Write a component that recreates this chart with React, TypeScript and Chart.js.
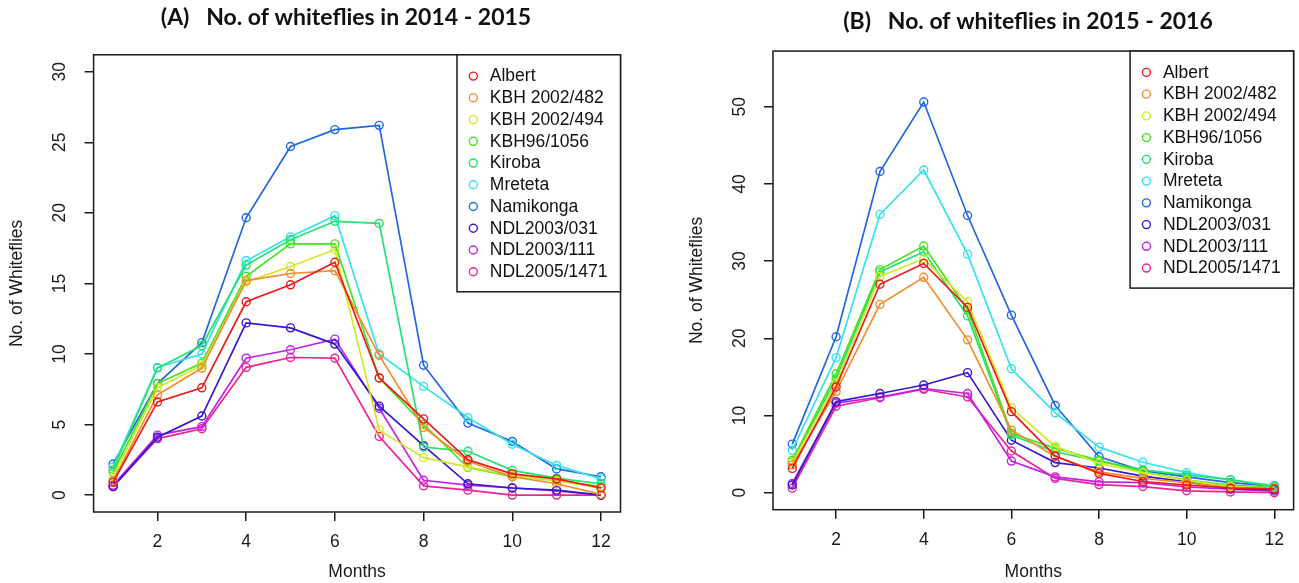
import React, { useEffect, useRef } from "react";
import { Chart, registerables } from "chart.js";

Chart.register(...registerables);

// ---------- data ----------
const months = [1, 2, 3, 4, 5, 6, 7, 8, 9, 10, 11, 12];
const xTicks = [2, 4, 6, 8, 10, 12];
const yTicksA = [0, 5, 10, 15, 20, 25, 30];
const yTicksB = [0, 10, 20, 30, 40, 50];

const varieties = [
  "Albert",
  "KBH 2002/482",
  "KBH 2002/494",
  "KBH96/1056",
  "Kiroba",
  "Mreteta",
  "Namikonga",
  "NDL2003/031",
  "NDL2003/111",
  "NDL2005/1471",
];

const colors = [
  "#EE1A1A",
  "#F28E2A",
  "#D2EA22",
  "#45E226",
  "#26E070",
  "#36E2EE",
  "#2266E0",
  "#3418D2",
  "#C224E6",
  "#EE2494",
];

// (A) 2014 - 2015
const albertA = [0.9, 6.6, 7.6, 13.7, 14.9, 16.5, 8.3, 5.4, 2.5, 1.5, 1.15, 0.5];
const kbh482A = [1.0, 7.1, 9.0, 15.2, 15.7, 15.9, 9.9, 4.8, 2.4, 1.3, 0.8, 0.05];
const kbh494A = [1.3, 7.6, 9.2, 15.1, 16.2, 17.4, 4.6, 2.65, 2.0, 1.4, 1.0, 0.5];
const kbh96A = [1.6, 7.9, 9.35, 15.5, 17.8, 17.8, 8.3, 5.0, 1.95, 1.3, 1.05, 0.6];
const kirobaA = [1.8, 9.0, 10.6, 16.3, 18.1, 19.4, 19.25, 3.4, 3.1, 1.75, 1.2, 0.8];
const mretetaA = [2.0, 9.05, 10.0, 16.6, 18.3, 19.8, 10.0, 7.7, 5.5, 3.6, 2.1, 1.15];
const namikongaA = [2.2, 7.9, 10.8, 19.65, 24.7, 25.9, 26.2, 9.2, 5.1, 3.8, 1.85, 1.3];
const ndl031A = [0.6, 4.1, 5.6, 12.2, 11.85, 10.7, 6.3, 3.5, 0.8, 0.5, 0.35, 0.0];
const ndl111A = [0.7, 4.25, 4.85, 9.7, 10.3, 11.05, 6.15, 1.05, 0.7, 0.5, 0.3, 0.0];
const ndl1471A = [0.6, 4.0, 4.7, 9.05, 9.75, 9.7, 4.15, 0.65, 0.35, 0.0, 0.0, 0.0];

// (B) 2015 - 2016
const albertB = [3.15, 13.7, 27.0, 29.7, 24.0, 10.5, 4.75, 2.5, 1.45, 1.0, 0.6, 0.5];
const kbh482B = [3.6, 13.1, 24.4, 27.9, 19.8, 8.1, 4.7, 2.7, 1.85, 1.3, 0.65, 0.55];
const kbh494B = [3.9, 14.2, 28.0, 30.3, 24.7, 11.0, 6.0, 3.8, 2.6, 1.6, 0.8, 0.6];
const kbh96B = [4.2, 15.4, 28.9, 31.95, 23.7, 7.7, 5.75, 4.2, 2.7, 1.65, 1.0, 0.65];
const kirobaB = [4.0, 14.8, 28.6, 31.2, 22.9, 7.45, 5.3, 4.1, 2.95, 2.3, 1.7, 0.8];
const mretetaB = [5.5, 17.5, 36.05, 41.8, 30.9, 16.05, 10.35, 5.9, 3.95, 2.6, 1.65, 0.95];
const namikongaB = [6.3, 20.2, 41.6, 50.6, 35.9, 23.0, 11.3, 4.65, 2.85, 2.05, 1.3, 0.85];
const ndl031B = [1.0, 11.8, 12.85, 13.95, 15.55, 6.8, 3.9, 3.2, 2.15, 1.4, 0.5, 0.4];
const ndl111B = [1.2, 11.6, 12.4, 13.5, 12.85, 4.1, 2.05, 1.4, 1.3, 0.75, 0.45, 0.2];
const ndl1471B = [0.6, 11.2, 12.3, 13.4, 12.4, 5.4, 1.85, 1.05, 0.8, 0.25, 0.1, 0.0];

const seriesA = [albertA, kbh482A, kbh494A, kbh96A, kirobaA, mretetaA, namikongaA, ndl031A, ndl111A, ndl1471A];
const seriesB = [albertB, kbh482B, kbh494B, kbh96B, kirobaB, mretetaB, namikongaB, ndl031B, ndl111B, ndl1471B];

// ---------- styling / layout ----------
const TXT = "'Liberation Sans', Arial, sans-serif";
const FS = 17.5;
const INK = "#1a1a1a";
const TITLE_FONT = "bold 23px Lato, 'Open Sans', sans-serif";

type Cfg = {
  left: number;
  w: number;
  title: string;
  series: number[][];
  yTicks: number[];
  yMin: number;
  yMax: number;
  padRight: number;
  padTop: number;
  titleX: number;
  titleY: number;
  yWidth: number;
  yTitlePad: number;
  xHeight: number;
};

const cfgA: Cfg = {
  left: 0,
  w: 650,
  title: "(A)   No. of whiteflies in 2014 - 2015",
  series: seriesA,
  yTicks: yTicksA,
  yMin: -1.2,
  yMax: 31.2,
  padRight: 29.5,
  padTop: 54.8,
  titleX: 346,
  titleY: 18,
  yWidth: 93.6,
  yTitlePad: 7.1,
  xHeight: 71,
};

const cfgB: Cfg = {
  left: 650,
  w: 649,
  title: "(B)   No. of whiteflies in 2015 - 2016",
  series: seriesB,
  yTicks: yTicksB,
  yMin: -2.2,
  yMax: 57.2,
  padRight: 1.5,
  padTop: 51.1,
  titleX: 378,
  titleY: 22,
  yWidth: 123,
  yTitlePad: 36.2,
  xHeight: 73.3,
};

const framePlugin = {
  id: "frameBox",
  afterDraw(chart: any) {
    const { ctx, chartArea: a } = chart;
    ctx.save();
    ctx.strokeStyle = INK;
    ctx.lineWidth = 1.5;
    ctx.strokeRect(a.left, a.top, a.right - a.left, a.bottom - a.top);
    ctx.restore();
  },
};

const titlePlugin = {
  id: "panelTitle",
  afterDraw(chart: any, _args: any, opts: any) {
    const { ctx } = chart;
    ctx.save();
    ctx.fillStyle = "#111";
    ctx.font = TITLE_FONT;
    ctx.textAlign = "center";
    ctx.textBaseline = "middle";
    ctx.fillText(opts.text, opts.x, opts.y);
    ctx.restore();
  },
};

const legendPlugin = {
  id: "boxLegend",
  afterDraw(chart: any) {
    const { ctx, chartArea: a } = chart;
    const boxW = 163.5;
    const boxH = 237;
    const x0 = a.right - boxW;
    const y0 = a.top;
    ctx.save();
    ctx.fillStyle = "#ffffff";
    ctx.fillRect(x0, y0, boxW, boxH);
    ctx.strokeStyle = INK;
    ctx.lineWidth = 1.5;
    ctx.strokeRect(x0, y0, boxW, boxH);
    chart.data.datasets.forEach((ds: any, i: number) => {
      const cy = y0 + 21.3 + i * 21.74;
      ctx.beginPath();
      ctx.arc(x0 + 16.3, cy, 4, 0, Math.PI * 2);
      ctx.strokeStyle = ds.borderColor;
      ctx.lineWidth = 1.4;
      ctx.stroke();
      ctx.fillStyle = "#111";
      ctx.font = `${FS}px ${TXT}`;
      ctx.textAlign = "left";
      ctx.textBaseline = "middle";
      ctx.fillText(ds.label, x0 + 32.8, cy + 0.5);
    });
    ctx.restore();
  },
};

function buildChart(canvas: HTMLCanvasElement, cfg: Cfg) {
  const font = { family: TXT, size: FS };
  return new Chart(canvas, {
    type: "line",
    data: {
      datasets: cfg.series.map((vals, i) => ({
        label: varieties[i],
        data: vals.map((v, j) => ({ x: months[j], y: v })),
        borderColor: colors[i],
        backgroundColor: "rgba(0,0,0,0)",
        pointBorderColor: colors[i],
        pointBackgroundColor: "rgba(0,0,0,0)",
        pointRadius: 4,
        pointBorderWidth: 1.4,
        borderWidth: 1.7,
        tension: 0,
        fill: false,
      })),
    },
    options: {
      responsive: false,
      animation: false,
      devicePixelRatio: 1,
      layout: { padding: { left: 0, right: cfg.padRight, top: cfg.padTop, bottom: 0 } },
      plugins: {
        legend: { display: false },
        tooltip: { enabled: false },
        title: { display: false },
        panelTitle: { text: cfg.title, x: cfg.titleX, y: cfg.titleY },
      },
      scales: {
        x: {
          type: "linear",
          min: 0.56,
          max: 12.44,
          afterBuildTicks: (s: any) => {
            s.ticks = xTicks.map((v) => ({ value: v }));
          },
          afterFit: (s: any) => {
            s.height = cfg.xHeight;
          },
          grid: { drawOnChartArea: false, drawTicks: true, tickLength: 9, color: INK, lineWidth: 1.5 },
          border: { display: false },
          ticks: {
            autoSkip: false,
            maxRotation: 0,
            minRotation: 0,
            padding: 10.5,
            font,
            color: INK,
            callback: (v: any) => String(v),
          },
          title: { display: true, text: "Months", font, color: INK, padding: { top: 0, bottom: 0 } },
        },
        y: {
          type: "linear",
          min: cfg.yMin,
          max: cfg.yMax,
          afterBuildTicks: (s: any) => {
            s.ticks = cfg.yTicks.map((v) => ({ value: v }));
          },
          afterFit: (s: any) => {
            s.width = cfg.yWidth;
          },
          grid: { drawOnChartArea: false, drawTicks: true, tickLength: 9, color: INK, lineWidth: 1.5 },
          border: { display: false },
          ticks: {
            minRotation: 90,
            maxRotation: 90,
            crossAlign: "center",
            padding: 14.3,
            font,
            color: INK,
            callback: (v: any) => String(v),
          },
          title: {
            display: true,
            text: "No. of Whiteflies",
            font,
            color: INK,
            padding: { top: cfg.yTitlePad, bottom: 0 },
          },
        },
      },
    } as any,
    plugins: [framePlugin, legendPlugin, titlePlugin],
  });
}

function Panel({ cfg }: { cfg: Cfg }) {
  const ref = useRef<HTMLCanvasElement>(null);
  useEffect(() => {
    const chart = buildChart(ref.current as HTMLCanvasElement, cfg);
    return () => chart.destroy();
  }, []);
  return (
    <canvas
      ref={ref}
      width={cfg.w}
      height={583}
      style={{ position: "absolute", left: cfg.left, top: 0, width: cfg.w, height: 583, display: "block" }}
    />
  );
}

export default function App() {
  return (
    <div
      style={{
        position: "fixed",
        left: 0,
        top: 0,
        width: 1299,
        height: 583,
        background: "#ffffff",
        overflow: "hidden",
      }}
    >
      <Panel cfg={cfgA} />
      <Panel cfg={cfgB} />
    </div>
  );
}
